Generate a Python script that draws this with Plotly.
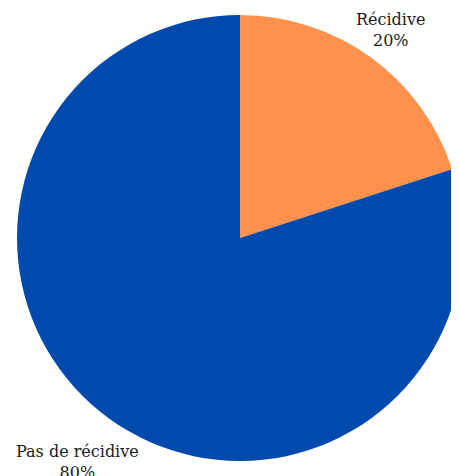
import math
import plotly.graph_objects as go

labels = ["Récidive", "Pas de récidive"]
values = [20, 80]
colors = ["#FF914D", "#004AAD"]

W, H = 470, 480
# pie geometry in figure pixels
CX, CY, R = 232, 230, 223
FONT_SIZE = 16
LABEL_GAP = 11      # base gap between pie edge and label centre
WIDTH_FACTOR = 0.34  # wider labels sit further out
CHAR_W = 0.52       # approx. average glyph width in em

dom_x = [(CX - R) / W, (CX + R) / W]
dom_y = [1 - (CY + R) / H, 1 - (CY - R) / H]

fig = go.Figure(go.Pie(
    labels=labels,
    values=values,
    sort=False,
    direction="clockwise",
    rotation=0,
    marker=dict(colors=colors, line=dict(width=0)),
    textinfo="none",
    showlegend=False,
    hoverinfo="label+percent",
    domain=dict(x=dom_x, y=dom_y),
))

total = sum(values)
cum = 0
annotations = []
for lab, v in zip(labels, values):
    mid = (cum + v / 2) / total * 2 * math.pi
    cum += v
    est_w = len(lab) * CHAR_W * FONT_SIZE
    rho = R + LABEL_GAP + WIDTH_FACTOR * est_w
    px = CX + rho * math.sin(mid)
    py = CY - rho * math.cos(mid)
    annotations.append(dict(
        x=px / W, y=1 - py / H, xref="paper", yref="paper",
        text=f"{lab}<br>{round(v / total * 100)}%",
        showarrow=False, xanchor="center", yanchor="middle",
        font=dict(family="DejaVu Serif", size=FONT_SIZE, color="#1a1a1a"),
    ))

fig.update_layout(
    width=W, height=H,
    margin=dict(l=0, r=0, t=0, b=0, autoexpand=False),
    paper_bgcolor="white",
    plot_bgcolor="white",
    annotations=annotations,
)
fig.write_html("out.html")
